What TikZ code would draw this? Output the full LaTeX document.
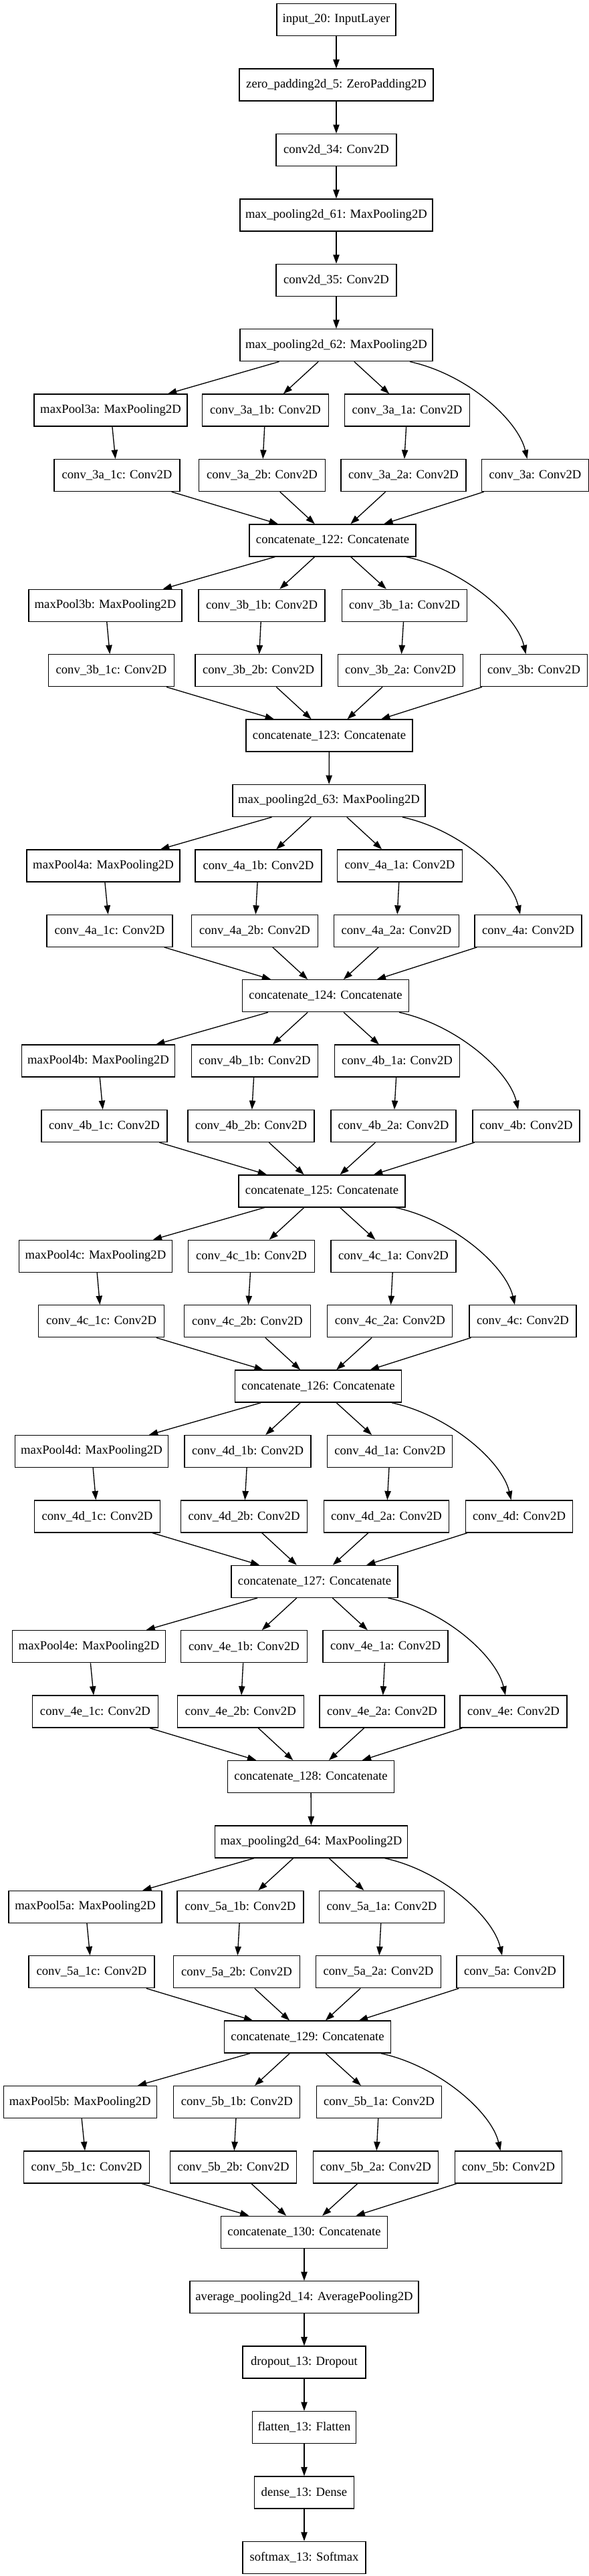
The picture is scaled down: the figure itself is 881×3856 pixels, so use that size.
\documentclass[tikz,border=0pt]{standalone}
\usepackage{fontspec}
\setmainfont{Liberation Serif}
\usetikzlibrary{arrows.meta,calc}
\newcommand\incblock[9]{%
 \node[bx,wmp] (mp#1) at (#4,#2) {maxPool#1: MaxPooling2D};
 \node[bx,wob] (b1#1) at (#5,#2) {conv\_#1\_1b: Conv2D};
 \node[bx,woa] (a1#1) at (#6,#2) {conv\_#1\_1a: Conv2D};
 \node[bx,woc] (c1#1) at (#7,#3) {conv\_#1\_1c: Conv2D};
 \node[bx,wtb] (b2#1) at (#8,#3) {conv\_#1\_2b: Conv2D};
 \node[bx,wta] (a2#1) at (#9,#3) {conv\_#1\_2a: Conv2D};
}
\newcommand\inccv[3]{\node[bx,wcv] (cv#1) at (#2,#3) {conv\_#1: Conv2D};}
\newcommand\inccat[4]{\node[bx,wcat] (cat#1) at (#2,#3) {concatenate\_#1: Concatenate};}
\newcommand\incedges[3]{%
 \draw[ed] (#2) -- (mp#1);
 \draw[ed] (#2) -- (b1#1);
 \draw[ed] (#2) -- (a1#1);
 \draw[ed] ($(#2.south)+(110,0)$) .. controls +(87,19) and +(-13,-57) .. ($(cv#1.north)+(-12,0)$);
 \draw[ed] (mp#1) -- (c1#1);
 \draw[ed] (b1#1) -- (b2#1);
 \draw[ed] (a1#1) -- (a2#1);
 \draw[ed] (c1#1) -- (#3);
 \draw[ed] (b2#1) -- (#3);
 \draw[ed] (a2#1) -- (#3);
 \draw[ed] (cv#1) -- (#3);
}
\begin{document}
\begin{tikzpicture}[x=0.75pt,y=-0.75pt,
 bx/.style={draw,line width=1pt,minimum height=36pt,inner sep=0pt,font=\fontsize{14pt}{16pt}\selectfont},
 ed/.style={line width=1pt,-{Triangle[length=10pt,width=7pt]}},
 wmp/.style={minimum width=171.75pt},
 wob/.style={minimum width=141.75pt},
 woa/.style={minimum width=140.25pt},
 woc/.style={minimum width=141pt},
 wtb/.style={minimum width=141.75pt},
 wta/.style={minimum width=140.25pt},
 wcv/.style={minimum width=120pt},
 wcat/.style={minimum width=186.75pt},
 wmpl/.style={minimum width=216pt}]
\useasboundingbox[fill=white] (0,0) rectangle (881,3856);
% top chain
\node[bx,minimum width=133.5pt] (in) at (503,29.7) {input\_20: InputLayer};
\node[bx,minimum width=217.5pt] (zp) at (503,127.1) {zero\_padding2d\_5: ZeroPadding2D};
\node[bx,minimum width=135pt] (c34) at (503,224.5) {conv2d\_34: Conv2D};
\node[bx,wmpl] (mp61) at (503,321.9) {max\_pooling2d\_61: MaxPooling2D};
\node[bx,minimum width=135pt] (c35) at (503,419.3) {conv2d\_35: Conv2D};
\node[bx,wmpl] (mp62) at (503,516.7) {max\_pooling2d\_62: MaxPooling2D};
% 3a
\incblock{3a}{614.1}{711.5}{165.5}{397}{609}{175}{392}{603.5}
\inccv{3a}{800.5}{711.5}
\inccat{122}{497.5}{808.9}{}
% 3b
\incblock{3b}{906.3}{1003.7}{157.5}{391.5}{605}{166.5}{386.5}{599}
\inccv{3b}{798.5}{1003.7}
\inccat{123}{492.5}{1101.1}{}
\node[bx,wmpl] (mp63) at (492,1198.5) {max\_pooling2d\_63: MaxPooling2D};
% 4a
\incblock{4a}{1295.9}{1393.3}{154.5}{386.5}{598}{164}{381}{593}
\inccv{4a}{790}{1393.3}
\inccat{124}{487}{1490.7}{}
% 4b
\incblock{4b}{1588.1}{1685.5}{147}{381}{594}{156}{375.5}{588.5}
\inccv{4b}{787}{1685.5}
\inccat{125}{481.5}{1782.9}{}
% 4c
\incblock{4c}{1880.3}{1977.7}{143}{376}{588.5}{151.6}{370}{583.3}
\inccv{4c}{782}{1977.7}
\inccat{126}{476}{2075.1}{}
% 4d
\incblock{4d}{2172.5}{2269.9}{137}{370.5}{583.3}{145.5}{365}{578}
\inccv{4d}{776.5}{2269.9}
\inccat{127}{470.5}{2367.3}{}
% 4e
\incblock{4e}{2464.7}{2562.1}{133}{365}{576.6}{142.4}{359.8}{571.5}
\inccv{4e}{768}{2562.1}
\inccat{128}{465}{2659.5}{}
\node[bx,wmpl] (mp64) at (465.5,2756.9) {max\_pooling2d\_64: MaxPooling2D};
% 5a
\incblock{5a}{2854.3}{2951.7}{127.6}{359.5}{571}{137}{354}{566}
\inccv{5a}{763}{2951.7}
\inccat{129}{460}{3049.1}{}
% 5b
\incblock{5b}{3146.5}{3243.9}{119.7}{354.3}{567}{129.5}{349}{562}
\inccv{5b}{760.5}{3243.9}
\inccat{130}{455}{3341.3}{}
% tail
\node[bx,minimum width=256.5pt] (avg) at (455,3438.7) {average\_pooling2d\_14: AveragePooling2D};
\node[bx,minimum width=138pt] (drop) at (455,3536.1) {dropout\_13: Dropout};
\node[bx,minimum width=116.6pt] (flat) at (455,3633.5) {flatten\_13: Flatten};
\node[bx,minimum width=111.4pt] (dense) at (455,3730.9) {dense\_13: Dense};
\node[bx,minimum width=138pt] (soft) at (455,3828.3) {softmax\_13: Softmax};
% edges
\draw[ed] (in) -- (zp);
\draw[ed] (zp) -- (c34);
\draw[ed] (c34) -- (mp61);
\draw[ed] (mp61) -- (c35);
\draw[ed] (c35) -- (mp62);
\incedges{3a}{mp62}{cat122}
\incedges{3b}{cat122}{cat123}
\draw[ed] (cat123) -- (mp63);
\incedges{4a}{mp63}{cat124}
\incedges{4b}{cat124}{cat125}
\incedges{4c}{cat125}{cat126}
\incedges{4d}{cat126}{cat127}
\incedges{4e}{cat127}{cat128}
\draw[ed] (cat128) -- (mp64);
\incedges{5a}{mp64}{cat129}
\incedges{5b}{cat129}{cat130}
\draw[ed] (cat130) -- (avg);
\draw[ed] (avg) -- (drop);
\draw[ed] (drop) -- (flat);
\draw[ed] (flat) -- (dense);
\draw[ed] (dense) -- (soft);
\end{tikzpicture}
\end{document}
